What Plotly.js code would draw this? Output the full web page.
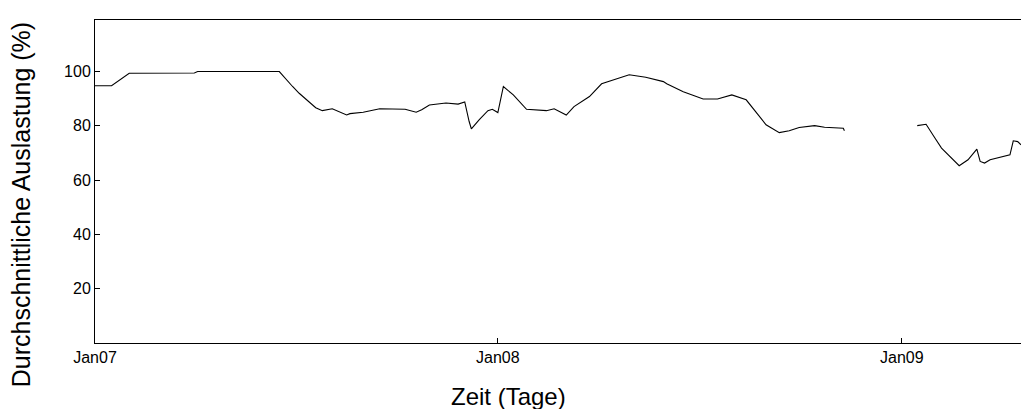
<!DOCTYPE html>
<html>
<head>
<meta charset="utf-8">
<script src="https://cdn.plot.ly/plotly-3.0.1.min.js"></script>
<style>html,body{margin:0;padding:0;background:#fff;overflow:hidden;}</style>
</head>
<body>
<div id="chart" style="width:1021px;height:409px;"></div>
<script>
var dates = [
  '2007-01-01','2007-01-16','2007-02-01','2007-03-02','2007-04-01','2007-04-04','2007-06-17',
  '2007-06-29','2007-07-05','2007-07-20','2007-07-26','2007-08-04','2007-08-17','2007-08-20',
  '2007-09-01','2007-09-16','2007-10-09','2007-10-19','2007-10-24','2007-10-31','2007-11-15',
  '2007-11-26','2007-12-02','2007-12-06','2007-12-08','2007-12-15','2007-12-23','2007-12-27',
  '2008-01-01','2008-01-06','2008-01-15','2008-01-27','2008-02-14','2008-02-21','2008-03-03',
  '2008-03-10','2008-03-24','2008-04-04','2008-04-14','2008-04-29','2008-05-14','2008-05-30',
  '2008-06-02','2008-06-17','2008-07-05','2008-07-18','2008-07-31','2008-08-13','2008-08-31',
  '2008-09-12','2008-09-21','2008-09-30','2008-10-14','2008-10-23','2008-11-09','2008-11-10',
  '2008-12-10',
  '2009-01-15','2009-01-23','2009-01-31','2009-02-06','2009-02-22','2009-03-02','2009-03-10',
  '2009-03-13','2009-03-17','2009-03-22','2009-04-09','2009-04-12','2009-04-16','2009-04-19'
];
var auslastung = [
  94.8, 94.8, 99.4, 99.4, 99.5, 100, 100,
  94.5, 92.0, 86.7, 85.6, 86.3, 84.0, 84.5,
  85.0, 86.3, 86.1, 85.0, 85.9, 87.7, 88.4,
  88.0, 88.8, 81.6, 78.9, 82.2, 85.6, 86.1,
  84.9, 94.5, 91.4, 86.1, 85.6, 86.3, 84.0,
  87.1, 90.8, 95.5, 96.9, 98.8, 97.9, 96.3,
  95.5, 92.6, 89.9, 89.9, 91.4, 89.6, 80.4,
  77.5, 78.2, 79.4, 80.1, 79.5, 79.1, 78.2,
  null,
  80.1, 80.6, 75.5, 71.8, 65.3, 67.5, 71.4,
  66.9, 66.3, 67.5, 69.3, 74.5, 74.2, 73.0
];
var xTickVals = ['2007-01-01','2008-01-01','2009-01-01'];
var xTickText = ['Jan07','Jan08','Jan09'];
var yTickVals = [20, 40, 60, 80, 100];
var xTitle = 'Zeit (Tage)';
var yTitle = 'Durchschnittliche Auslastung (%)';

var font = 'Liberation Sans, Arial, sans-serif';

Plotly.newPlot('chart', [{
  x: dates,
  y: auslastung,
  type: 'scatter',
  mode: 'lines',
  connectgaps: false,
  line: {color: '#000000', width: 1.1},
  hoverinfo: 'skip'
}], {
  width: 1021,
  height: 409,
  margin: {l: 95, r: 0, t: 20, b: 66, pad: 0},
  paper_bgcolor: '#ffffff',
  plot_bgcolor: '#ffffff',
  showlegend: false,
  font: {family: font, color: '#000000', size: 16},
  xaxis: {
    type: 'date',
    range: ['2007-01-01', '2009-04-19'],
    tickmode: 'array',
    tickvals: xTickVals,
    ticktext: xTickText,
    ticks: 'inside',
    ticklen: 5,
    tickwidth: 1,
    tickcolor: '#000000',
    showline: true,
    linecolor: '#000000',
    linewidth: 1,
    mirror: true,
    showgrid: false,
    zeroline: false,
    tickfont: {family: font, size: 16, color: '#000000'}
  },
  yaxis: {
    range: [0, 119],
    tickmode: 'array',
    tickvals: yTickVals,
    ticks: 'inside',
    ticklen: 5,
    tickwidth: 1,
    tickcolor: '#000000',
    showline: true,
    linecolor: '#000000',
    linewidth: 1,
    mirror: false,
    showgrid: false,
    zeroline: false,
    tickfont: {family: font, size: 16, color: '#000000'}
  },
  annotations: [
    {text: xTitle, xref: 'paper', yref: 'paper', x: 0.447, y: -0.165,
     xanchor: 'center', yanchor: 'middle', showarrow: false,
     font: {family: font, size: 24, color: '#000000'}},
    {text: yTitle, xref: 'paper', yref: 'paper', x: -0.079, y: 0.429,
     xanchor: 'center', yanchor: 'middle', textangle: -90, showarrow: false,
     font: {family: font, size: 25, color: '#000000'}}
  ]
}, {displayModeBar: false, staticPlot: true});
</script>
</body>
</html>
